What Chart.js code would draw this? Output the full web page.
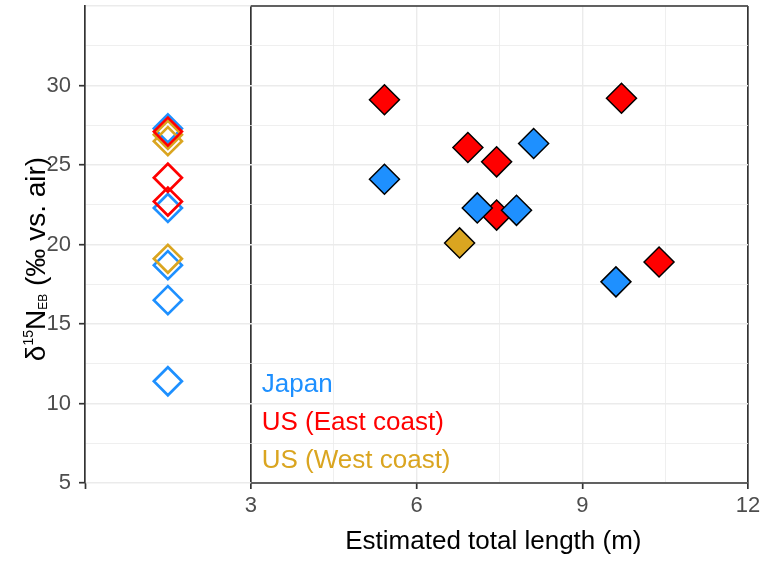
<!DOCTYPE html>
<html>
<head>
<meta charset="utf-8">
<script src="https://cdn.jsdelivr.net/npm/chart.js@4"></script>
<style>
  html, body { margin: 0; padding: 0; background: #fff; }
  #wrap { width: 763px; height: 563px; }
</style>
</head>
<body>
<div id="wrap"><canvas id="c"></canvas></div>
<script>
const FONT = '"Liberation Sans", Arial, Helvetica, sans-serif';
const BLUE = '#1E90FF';
const RED = '#FF0000';
const GOLD = '#DAA520';
const AXIS = '#333333';

// literature values (no length known), shown as open diamonds at x = 1.5
const litX = 1.5;
const litJapan = [27.3, 22.3, 18.7, 16.5, 11.4];
const litEast = [27.1, 24.2, 22.7];
const litWest = [26.9, 26.5, 19.1];

// measured specimens: estimated length (m) and d15N
const japanLen = [5.42, 8.12, 7.10, 7.81, 9.61];
const japanN = [24.1, 26.35, 22.3, 22.15, 17.65];
const eastLen = [5.42, 9.71, 6.93, 7.45, 7.45, 10.39];
const eastN = [29.1, 29.2, 26.1, 25.2, 21.85, 18.9];
const westLen = [6.78];
const westN = [20.1];

const xTicks = [0, 1.5, 3, 4.5, 6, 7.5, 9, 10.5, 12];
const xLabels = [3, 6, 9, 12];
const yTicks = [5, 7.5, 10, 12.5, 15, 17.5, 20, 22.5, 25, 27.5, 30, 32.5, 35];
const yLabels = [5, 10, 15, 20, 25, 30];

const legendLabels = ['Japan', 'US (East coast)', 'US (West coast)'];
const legendColors = [BLUE, RED, GOLD];

const pts = (xs, ys) => ys.map((v, i) => ({ x: Array.isArray(xs) ? xs[i] : xs, y: v }));

const filled = (data, color) => ({
  data,
  pointStyle: 'rectRot',
  pointRadius: 15,
  backgroundColor: color,
  borderColor: '#000',
  borderWidth: 1.5,
});
const open = (data, color) => ({
  data,
  pointStyle: 'rectRot',
  pointRadius: 14,
  backgroundColor: 'rgba(0,0,0,0)',
  borderColor: color,
  borderWidth: 2.7,
});

// first dataset is drawn on top
const datasets = [
  filled(pts(westLen, westN), GOLD),
  filled(pts(japanLen, japanN), BLUE),
  filled(pts(eastLen, eastN), RED),
  open(pts(litX, litEast), RED),
  open(pts(litX, litWest), GOLD),
  open(pts(litX, litJapan), BLUE),
];

const xGridColor = (v) => {
  if (v === 3 || v === 12) return AXIS;
  if (v < 3) return 'rgba(0,0,0,0)';
  return '#EBEBEB';
};
const xGridWidth = (v) => {
  if (v === 3 || v === 12) return 1.7;
  return xLabels.includes(v) ? 1.4 : 0.8;
};

const extras = {
  id: 'extras',
  beforeDatasetsDraw(chart) {
    const { ctx, chartArea: a, scales: { x } } = chart;
    const x3 = x.getPixelForValue(3);
    const x12 = x.getPixelForValue(12);
    ctx.save();
    ctx.strokeStyle = AXIS;
    ctx.lineWidth = 1.7;
    ctx.beginPath();
    ctx.moveTo(x3, a.top);
    ctx.lineTo(x12, a.top);
    ctx.moveTo(x3, a.bottom);
    ctx.lineTo(x12, a.bottom);
    ctx.stroke();
    ctx.restore();
  },
  afterDraw(chart) {
    const { ctx, chartArea: a, scales: { x } } = chart;
    const x3 = x.getPixelForValue(3);
    const x12 = x.getPixelForValue(12);
    ctx.save();
    ctx.textBaseline = 'alphabetic';

    // group labels inside the panel
    ctx.font = `26px ${FONT}`;
    ctx.textAlign = 'left';
    legendLabels.forEach((t, i) => {
      ctx.fillStyle = legendColors[i];
      ctx.fillText(t, x3 + 11, a.bottom - 91 + i * 38);
    });

    // x title
    ctx.fillStyle = '#000';
    ctx.textAlign = 'center';
    ctx.fillText('Estimated total length (m)', (x3 + x12) / 2 - 6, 549);

    // y title with super/subscript
    const segs = [
      { t: 'δ', size: 28, dy: 0 },
      { t: '15', size: 14, dy: -12 },
      { t: 'N', size: 28, dy: 0 },
      { t: 'EB', size: 12, dy: 2 },
      { t: ' (‰ vs. air)', size: 28, dy: 0 },
    ];
    let total = 0;
    segs.forEach((s) => {
      ctx.font = `${s.size}px ${FONT}`;
      s.w = ctx.measureText(s.t).width;
      total += s.w;
    });
    ctx.translate(45, 259);
    ctx.rotate(-Math.PI / 2);
    ctx.textAlign = 'left';
    let cx = -total / 2;
    segs.forEach((s) => {
      ctx.font = `${s.size}px ${FONT}`;
      ctx.fillText(s.t, cx, s.dy);
      cx += s.w;
    });
    ctx.restore();
  },
};

new Chart(document.getElementById('c'), {
  type: 'scatter',
  data: { datasets },
  options: {
    responsive: true,
    maintainAspectRatio: false,
    animation: false,
    events: [],
    layout: { autoPadding: false, padding: { top: 6, right: 15, left: 0, bottom: 0 } },
    plugins: { legend: { display: false }, tooltip: { enabled: false } },
    scales: {
      x: {
        type: 'linear',
        min: 0,
        max: 12,
        afterBuildTicks: (s) => { s.ticks = xTicks.map((v) => ({ value: v })); },
        afterFit: (s) => { s.height = 80; s.paddingLeft = 0; s.paddingRight = 0; },
        border: { display: false },
        grid: {
          color: (c) => xGridColor(c.tick.value),
          lineWidth: (c) => xGridWidth(c.tick.value),
          tickColor: (c) => (c.tick.value === 0 || xLabels.includes(c.tick.value) ? AXIS : 'rgba(0,0,0,0)'),
          tickLength: 6,
          tickWidth: 1.7,
        },
        ticks: {
          autoSkip: false,
          maxRotation: 0,
          padding: 4,
          color: '#4D4D4D',
          font: { family: FONT, size: 22 },
          callback: (v) => (xLabels.includes(v) ? v : ''),
        },
      },
      y: {
        type: 'linear',
        min: 5,
        max: 35,
        afterBuildTicks: (s) => { s.ticks = yTicks.map((v) => ({ value: v })); },
        afterFit: (s) => { s.width = 85; s.paddingTop = 0; s.paddingBottom = 0; },
        border: { display: true, color: AXIS, width: 1.7 },
        grid: {
          color: '#EBEBEB',
          lineWidth: (c) => (c.tick.value % 5 === 0 ? 1.4 : 0.8),
          tickColor: (c) => (yLabels.includes(c.tick.value) ? AXIS : 'rgba(0,0,0,0)'),
          tickLength: 6,
          tickWidth: 1.7,
        },
        ticks: {
          autoSkip: false,
          padding: 8,
          color: '#4D4D4D',
          font: { family: FONT, size: 22 },
          callback: (v) => (yLabels.includes(v) ? v : ''),
        },
      },
    },
  },
  plugins: [extras],
});
</script>
</body>
</html>
